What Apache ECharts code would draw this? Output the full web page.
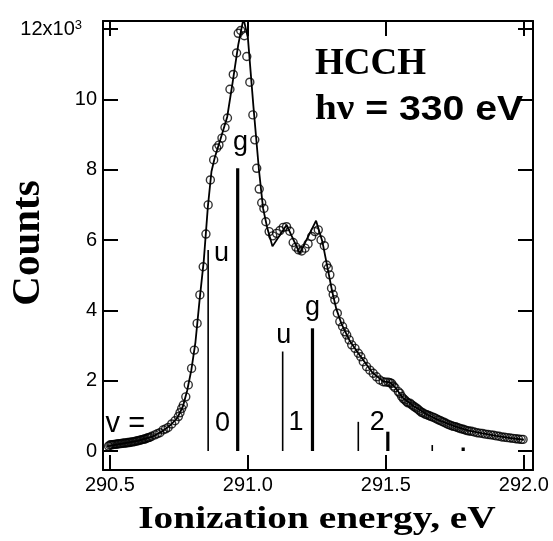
<!DOCTYPE html>
<html><head><meta charset="utf-8">
<script src="https://cdn.jsdelivr.net/npm/echarts@6/dist/echarts.min.js"></script>
<style>html,body{margin:0;padding:0;background:#fff}#c{width:553px;height:541px}</style>
</head><body><div id="c"></div>
<script>
// measured points (ionization energy in eV, counts in thousands)
const energies = [
290.495,290.500,290.505,290.510,290.515,290.520,290.525,290.530,290.535,290.540,
290.545,290.550,290.555,290.560,290.565,290.570,290.575,290.580,290.585,290.590,
290.595,290.600,290.605,290.610,290.615,290.620,290.625,290.630,290.635,290.640,
290.645,290.652,290.663,290.672,290.681,290.693,290.702,290.711,290.724,290.736,
290.748,290.754,290.760,290.766,290.775,290.784,290.796,290.806,290.816,290.826,
290.838,290.848,290.856,290.864,290.876,290.887,290.895,290.906,290.917,290.926,
290.935,290.947,290.959,290.965,290.974,290.987,290.996,291.007,291.018,291.025,
291.032,291.041,291.050,291.058,291.065,291.077,291.090,291.104,291.116,291.128,
291.140,291.152,291.164,291.174,291.184,291.195,291.207,291.218,291.231,291.243,
291.255,291.265,291.277,291.285,291.291,291.297,291.303,291.309,291.315,291.324,
291.333,291.343,291.351,291.358,291.367,291.376,291.388,291.400,291.409,291.418,
291.430,291.442,291.454,291.466,291.478,291.490,291.499,291.508,291.515,291.521,
291.527,291.533,291.545,291.551,291.557,291.563,291.569,291.575,291.580,291.587,
291.593,291.599,291.605,291.611,291.617,291.623,291.629,291.635,291.642,291.648,
291.655,291.661,291.668,291.675,291.682,291.689,291.696,291.703,291.710,291.717,
291.724,291.731,291.738,291.745,291.752,291.759,291.766,291.773,291.780,291.787,
291.794,291.801,291.810,291.820,291.830,291.840,291.850,291.860,291.870,291.880,
291.890,291.900,291.910,291.920,291.930,291.940,291.950,291.960,291.970,291.980,
291.990,291.997];
const counts = [
0.14,0.17,0.18,0.18,0.19,0.19,0.20,0.20,0.21,0.21,
0.22,0.22,0.23,0.23,0.24,0.24,0.25,0.26,0.26,0.27,
0.28,0.29,0.30,0.31,0.32,0.33,0.34,0.35,0.37,0.38,
0.39,0.42,0.46,0.49,0.52,0.60,0.63,0.67,0.77,0.86,
0.98,1.09,1.21,1.31,1.54,1.88,2.35,2.87,3.63,4.44,
5.24,6.17,7.00,7.71,8.28,8.62,8.70,8.90,9.20,9.47,
10.29,10.71,11.32,11.88,11.96,11.81,11.22,10.49,9.56,8.85,
8.04,7.45,7.06,6.90,6.52,6.24,6.12,6.19,6.27,6.36,
6.38,6.25,5.93,5.80,5.72,5.69,5.77,5.89,6.10,6.24,
6.29,6.00,5.84,5.29,5.20,5.01,4.63,4.45,4.30,3.92,
3.68,3.54,3.39,3.30,3.16,3.02,2.92,2.78,2.68,2.54,
2.40,2.30,2.21,2.11,2.02,1.97,1.96,1.96,1.94,1.92,
1.85,1.80,1.69,1.64,1.55,1.49,1.45,1.40,1.37,1.36,
1.32,1.28,1.25,1.22,1.18,1.14,1.10,1.08,1.05,1.03,
1.01,0.99,0.97,0.95,0.92,0.89,0.87,0.84,0.82,0.79,
0.76,0.74,0.72,0.70,0.69,0.67,0.65,0.63,0.62,0.60,
0.58,0.57,0.56,0.54,0.52,0.51,0.50,0.48,0.47,0.46,
0.45,0.43,0.42,0.40,0.39,0.38,0.37,0.36,0.35,0.34,
0.33,0.33];
// fitted curve
const fitEnergies = [290.49,290.55,290.60,290.65,290.69,290.72,290.745,290.765,290.78,290.795,
290.81,290.825,290.84,290.855,290.868,290.88,290.90,290.925,290.945,290.965,
290.984,291.00,291.02,291.04,291.055,291.07,291.089,291.14,291.188,291.247,
291.27,291.29,291.305,291.32,291.34,291.37,291.40,291.45,291.49,291.515,
291.535,291.56,291.60,291.65,291.70,291.75,291.80,291.85,291.90,291.95,292.00];
const fitCounts = [0.13,0.22,0.29,0.40,0.56,0.74,0.95,1.28,1.72,2.30,
3.10,4.30,5.40,6.95,7.95,8.35,8.85,9.50,10.50,11.55,
12.30,11.75,9.80,8.00,6.90,6.35,5.82,6.43,5.62,6.55,
5.95,5.15,4.55,4.05,3.60,3.12,2.78,2.24,1.98,1.95,
1.80,1.52,1.28,1.03,0.85,0.70,0.58,0.50,0.43,0.37,0.32];
// vibrational stick spectrum
const stickEnergies = [290.856,290.963,291.126,291.234,291.400,291.507,291.668,291.780];
const stickHeights  = [5.72,8.04,2.83,3.49,0.83,0.55,0.17,0.10];
const stickSymmetry = ['u','g','u','g','u','g','u','g'];
// annotation labels
const labelTexts    = ['v =','0','u','g','1','u','g','2'];
const labelEnergies = [290.556,290.908,290.904,290.973,291.174,291.130,291.234,291.469];
const labelCounts   = [0.77,0.77,5.63,8.76,0.80,3.27,4.07,0.80];
// axis ticks
const xTickValues = [290.5,291.0,291.5,292.0];
const yTickValues = [0,2,4,6,8,10,12];

const SANS = '"Liberation Sans", Arial, Helvetica, sans-serif';
const SERIF = '"Liberation Serif", "Times New Roman", serif';
const X_MIN = 290.475, X_MAX = 292.033, Y_MIN = -0.54, Y_MAX = 12.23;
const lineSty = {color:'#000', width:2};
function tick(vals){ return {show:true, inside:true, length:15, customValues:vals, lineStyle:{color:'#000', width:2}}; }

const chart = echarts.init(document.getElementById('c'));
chart.setOption({
  animation:false,
  backgroundColor:'#fff',
  grid:{left:103, right:20, top:21, bottom:71},
  xAxis:[
    {type:'value', position:'bottom', min:X_MIN, max:X_MAX,
     axisLine:{show:true, onZero:false, lineStyle:lineSty}, axisTick:tick(xTickValues),
     axisLabel:{customValues:xTickValues, formatter:v=>v.toFixed(1), fontFamily:SANS, fontSize:20, color:'#000', margin:5},
     splitLine:{show:false}},
    {type:'value', position:'top', min:X_MIN, max:X_MAX,
     axisLine:{show:true, onZero:false, lineStyle:lineSty}, axisTick:tick(xTickValues),
     axisLabel:{show:false}, splitLine:{show:false}}
  ],
  yAxis:[
    {type:'value', position:'left', min:Y_MIN, max:Y_MAX,
     axisLine:{show:true, onZero:false, lineStyle:lineSty}, axisTick:tick(yTickValues),
     axisLabel:{customValues:yTickValues, margin:6, color:'#000',
       formatter:v=> v===12 ? '{n|12x10}{s|3}' : '{n|'+v+'}',
       rich:{n:{fontFamily:SANS, fontSize:20, color:'#000'},
             s:{fontFamily:SANS, fontSize:13, color:'#000', verticalAlign:'top', padding:[0,15,0,0]}}},
     splitLine:{show:false}},
    {type:'value', position:'right', min:Y_MIN, max:Y_MAX,
     axisLine:{show:true, onZero:false, lineStyle:lineSty}, axisTick:tick(yTickValues),
     axisLabel:{show:false}, splitLine:{show:false}}
  ],
  series:[
    {type:'custom', xAxisIndex:0, yAxisIndex:0, z:2,
     data: stickEnergies.map((e,i)=>[e, stickHeights[i], stickSymmetry[i]==='g'?1:0]),
     renderItem:(params, api)=>{
       const e = api.value(0), h = api.value(1), k = api.value(2);
       const p0 = api.coord([e,0]), p1 = api.coord([e,h]);
       return {type:'line', shape:{x1:p0[0], y1:p0[1], x2:p1[0], y2:p1[1]},
               style:{stroke:'#000', lineWidth: k===1 ? 3.2 : 1.6}};
     }},
    {type:'line', xAxisIndex:0, yAxisIndex:0, z:3, symbol:'none', showSymbol:false,
     data: fitEnergies.map((e,i)=>[e, fitCounts[i]]),
     lineStyle:{color:'#000', width:1.8}},
    {type:'scatter', xAxisIndex:0, yAxisIndex:0, z:4, symbol:'circle', symbolSize:8,
     data: energies.map((e,i)=>[e, counts[i]]),
     itemStyle:{color:'rgba(255,255,255,0)', borderColor:'#000', borderWidth:1.4}},
    {type:'custom', xAxisIndex:0, yAxisIndex:0, z:5, silent:true,
     data: labelEnergies.map((e,i)=>[e, labelCounts[i], i]),
     renderItem:(params, api)=>{
       const i = api.value(2);
       const p = api.coord([api.value(0), api.value(1)]);
       const t = labelTexts[i];
       return {type:'text', x:p[0], y:p[1],
               style:{text:t, fontFamily:SANS, fontSize: t==='v =' ? 29 : 27, fill:'#000',
                      align:'center', verticalAlign:'middle'}};
     }}
  ],
  graphic:[
    {type:'text', x:315, y:64, style:{text:'HCCH', fontFamily:SERIF, fontWeight:'bold', fontSize:37, fill:'#000', align:'left', verticalAlign:'middle'}},
    {type:'text', x:315, y:110, scaleX:1.12, style:{text:'{a|hν}{b| = 330 eV}', align:'left', verticalAlign:'middle',
      rich:{a:{fontFamily:SERIF, fontWeight:'bold', fontSize:35, fill:'#000'}, b:{fontFamily:SANS, fontWeight:'bold', fontSize:35, fill:'#000'}}}},
    {type:'text', x:28, y:243, rotation:Math.PI/2, style:{text:'Counts', fontFamily:SERIF, fontWeight:'bold', fontSize:41, fill:'#000', align:'center', verticalAlign:'middle'}},
    {type:'text', x:317, y:520, scaleX:1.23, style:{text:'Ionization energy, eV', fontFamily:SERIF, fontWeight:'bold', fontSize:32, fill:'#000', align:'center', verticalAlign:'middle'}}
  ]
});
</script></body></html>
